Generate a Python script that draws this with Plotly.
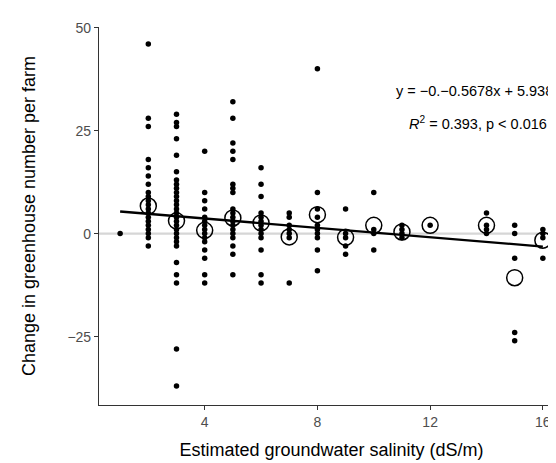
import plotly.graph_objects as go

# ---- data ----
salinity_levels = [1, 2, 3, 4, 5, 6, 7, 8, 9, 10, 11, 12, 14, 15, 16]
farm_changes = [
    [0],
    [46, 28, 26, 18, 16, 14, 12, 10, 9, 8, 7, 6, 5, 4, 3, 2, 1, 0, -1, -3],
    [29, 27, 26, 23, 19, 15, 13, 12, 11, 10, 9, 8, 7, 6, 5, 4, 3, 2, 1, 0,
     -1, -2, -3, -7, -10, -12, -28, -37],
    [20, 10, 8, 6, 4, 3, 2, 1, 0, -1, -2, -4, -6, -10, -12],
    [32, 28, 22, 20, 18, 12, 11, 10, 6, 5, 4, 3, 2, 1, 0, -1, -3, -5, -10],
    [16, 12, 9, 5, 4, 3, 2, 1, 0, -1, -4, -10, -12],
    [5, 4, 2, 1, 0, -1, -12],
    [40, 10, 6, 4, 2, 1, 0, -1, -4, -9],
    [6, 0, -1, -3, -5],
    [10, 1, 0, -4],
    [2, 1, 0, -1],
    [2],
    [5, 2, 1, 0],
    [2, 0, -6, -24, -26],
    [1, 0, -1, -6],
]

mean_salinity = [2, 3, 4, 5, 6, 7, 8, 9, 10, 11, 12, 14, 15, 16]
mean_change = [6.7, 3.1, 0.8, 3.8, 2.6, -0.8, 4.6, -0.9, 2.0, 0.4, 2.0, 2.0, -10.7, -1.6]

slope = -0.5678
intercept = 5.9389
fit_x = [1, 16]

x_ticks = [4, 8, 12, 16]
y_ticks = [-25, 0, 25, 50]

# ---- build flat point lists ----
pts_x, pts_y = [], []
for s, vals in zip(salinity_levels, farm_changes):
    for v in vals:
        pts_x.append(s)
        pts_y.append(v)

fit_y = [slope * x + intercept for x in fit_x]

FONT = "Liberation Sans, Arial, Helvetica, sans-serif"

fig = go.Figure()

fig.add_trace(go.Scatter(
    x=pts_x, y=pts_y, mode="markers",
    marker=dict(color="black", size=5.5, line=dict(width=0)),
    showlegend=False, hoverinfo="x+y",
))
fig.add_trace(go.Scatter(
    x=fit_x, y=fit_y, mode="lines",
    line=dict(color="black", width=2.3),
    showlegend=False,
))
fig.add_trace(go.Scatter(
    x=mean_salinity, y=mean_change, mode="markers",
    marker=dict(symbol="circle-open", color="black", size=16,
                line=dict(width=1.5, color="black")),
    showlegend=False,
))

# grey zero reference line
fig.add_shape(type="line", xref="paper", yref="y", x0=0, x1=1, y0=0, y1=0,
              line=dict(color="#d6d6d6", width=2.2), layer="below")

fig.add_annotation(x=13.7, y=34.6, xref="x", yref="y",
                   text="y = −0.−0.5678x + 5.9389", showarrow=False,
                   font=dict(family=FONT, size=14.5, color="black"),
                   xanchor="center", yanchor="middle")
fig.add_annotation(x=13.7, y=26.9, xref="x", yref="y",
                   text="<i>R</i><sup>2</sup> = 0.393, p < 0.016", showarrow=False,
                   font=dict(family=FONT, size=14.5, color="black"),
                   xanchor="center", yanchor="middle")

fig.update_layout(
    width=556, height=463,
    margin=dict(l=91, r=0, t=19, b=66),
    plot_bgcolor="white", paper_bgcolor="white",
    font=dict(family=FONT),
    xaxis=dict(
        range=[0.25, 16.75], tickvals=x_ticks, ticks="outside", ticklen=4,
        tickcolor="#333333", tickwidth=1, showline=True, linecolor="#333333",
        linewidth=1.1, showgrid=False, zeroline=False,
        tickfont=dict(family=FONT, size=14, color="#4d4d4d"),
        title=dict(text="Estimated groundwater salinity (dS/m)", standoff=14,
                   font=dict(family=FONT, size=18, color="black")),
    ),
    yaxis=dict(
        range=[-41.6, 50.15], tickvals=y_ticks, ticks="outside", ticklen=4,
        tickcolor="#333333", tickwidth=1, showline=True, linecolor="#333333",
        linewidth=1.1, showgrid=False, zeroline=False,
        tickfont=dict(family=FONT, size=14, color="#4d4d4d"),
        title=dict(text="Change in greenhouse number per farm", standoff=27,
                   font=dict(family=FONT, size=18, color="black")),
    ),
)

fig.write_html("out.html")
